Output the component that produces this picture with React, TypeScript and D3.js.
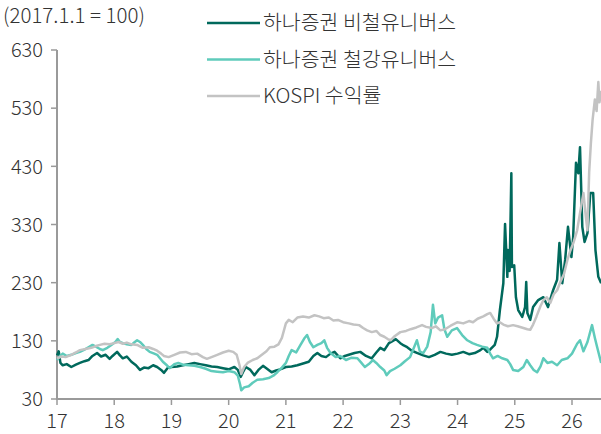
import React from 'react';
import * as d3 from 'd3';

// 하나증권 비철유니버스
const nonferrousT = [
  2017.0, 2017.03, 2017.06, 2017.1, 2017.17, 2017.25, 2017.33, 2017.4, 2017.48, 2017.55, 2017.62, 2017.7, 2017.77, 2017.85, 2017.92, 2017.97,
  2018.05, 2018.1, 2018.15, 2018.22, 2018.3, 2018.38, 2018.45, 2018.52, 2018.6, 2018.68, 2018.75, 2018.82, 2018.87, 2018.93,
  2019.0, 2019.1, 2019.2, 2019.3, 2019.4, 2019.5, 2019.6, 2019.7, 2019.8, 2019.9,
  2020.0, 2020.1, 2020.16, 2020.21, 2020.25, 2020.3, 2020.38, 2020.45, 2020.52, 2020.6, 2020.67, 2020.75, 2020.83, 2020.9,
  2021.0, 2021.1, 2021.2, 2021.3, 2021.4, 2021.48, 2021.55, 2021.62, 2021.7, 2021.78, 2021.85, 2021.95,
  2022.03, 2022.1, 2022.2, 2022.3, 2022.4, 2022.5, 2022.58, 2022.65, 2022.72, 2022.8, 2022.87, 2022.92,
  2023.0, 2023.06, 2023.12, 2023.2, 2023.3, 2023.4, 2023.5, 2023.6, 2023.7, 2023.8, 2023.9,
  2024.0, 2024.1, 2024.2, 2024.3, 2024.4, 2024.45, 2024.52, 2024.58, 2024.65, 2024.69, 2024.74, 2024.8, 2024.83, 2024.87, 2024.88, 2024.91, 2024.94, 2024.95, 2024.99,
  2025.02, 2025.06, 2025.13, 2025.18, 2025.2, 2025.22, 2025.27, 2025.32, 2025.41, 2025.5, 2025.58, 2025.67, 2025.74, 2025.78, 2025.83, 2025.88, 2025.93, 2025.99,
  2026.02, 2026.07, 2026.11, 2026.14, 2026.18, 2026.22, 2026.27, 2026.32, 2026.37, 2026.41, 2026.46, 2026.51,
];
const nonferrousV = [
  105, 112, 92, 88, 90, 85, 89, 92, 95, 97, 104, 109, 103, 106, 99, 104,
  111, 105, 100, 103, 94, 88, 80, 84, 83, 88, 85, 80, 75, 83,
  85, 86, 88, 90, 92, 90, 88, 86, 85, 83,
  81, 85, 80, 68, 76, 85, 80, 71, 80, 87, 82, 76, 79, 81,
  85, 86, 88, 91, 94, 104, 109, 104, 102, 108, 111, 100,
  104, 106, 109, 111, 104, 100, 110, 118, 114, 126, 130, 133,
  126, 122, 119, 113, 109, 105, 102, 106, 111, 108, 106,
  108, 111, 107, 109, 114, 118, 111, 116, 123, 137, 183, 229, 331, 240, 286, 250, 418, 257, 260,
  205, 183, 171, 188, 231, 178, 166, 188, 200, 205, 188, 217, 235, 298, 229, 269, 326, 274,
  308, 436, 418, 463, 326, 300, 315, 384, 384, 286, 240, 229,
];

// 하나증권 철강유니버스
const steelT = [
  2017.0, 2017.05, 2017.1, 2017.17, 2017.25, 2017.33, 2017.4, 2017.48, 2017.55, 2017.62, 2017.68, 2017.75, 2017.8, 2017.88, 2017.95,
  2018.02, 2018.06, 2018.1, 2018.15, 2018.22, 2018.3, 2018.36, 2018.4, 2018.45, 2018.5, 2018.56, 2018.62, 2018.7, 2018.75, 2018.8, 2018.85, 2018.92, 2018.97,
  2019.05, 2019.12, 2019.2, 2019.3, 2019.4, 2019.5, 2019.6, 2019.7, 2019.8, 2019.9,
  2020.0, 2020.1, 2020.16, 2020.2, 2020.22, 2020.27, 2020.35, 2020.42, 2020.5, 2020.6, 2020.7, 2020.78, 2020.85, 2020.93,
  2021.0, 2021.05, 2021.1, 2021.18, 2021.25, 2021.32, 2021.37, 2021.42, 2021.48, 2021.55, 2021.62, 2021.67, 2021.72, 2021.78, 2021.87, 2021.95,
  2022.05, 2022.15, 2022.25, 2022.32, 2022.38, 2022.45, 2022.52, 2022.58, 2022.65, 2022.72, 2022.76, 2022.82, 2022.9,
  2023.0, 2023.08, 2023.17, 2023.29, 2023.34, 2023.4, 2023.47, 2023.53, 2023.57, 2023.61, 2023.66, 2023.73, 2023.77, 2023.82, 2023.9, 2023.99,
  2024.08, 2024.17, 2024.26, 2024.34, 2024.43, 2024.52, 2024.57, 2024.62, 2024.7, 2024.78, 2024.87, 2024.92, 2024.97,
  2025.06, 2025.15, 2025.21, 2025.27, 2025.33, 2025.39, 2025.45, 2025.5, 2025.57, 2025.65, 2025.74, 2025.82, 2025.92,
  2026.0, 2026.09, 2026.14, 2026.2, 2026.27, 2026.35, 2026.4, 2026.44, 2026.51,
];
const steelV = [
  97, 104, 108, 104, 106, 109, 111, 115, 119, 123, 120, 116, 114, 118, 123,
  128, 133, 128, 126, 124, 123, 128, 131, 128, 123, 116, 111, 108, 106, 100, 94, 88, 83,
  90, 92, 89, 88, 87, 85, 82, 78, 77, 76,
  78, 76, 70, 55, 45, 50, 52, 58, 63, 64, 66, 70, 76, 84,
  92, 104, 114, 110, 122, 134, 140, 128, 119, 123, 126, 131, 118, 109, 102, 104,
  97, 101, 100, 92, 85, 90, 97, 92, 85, 79, 71, 78, 82,
  88, 95, 102, 131, 112, 109, 120, 145, 192, 160, 170, 174, 150, 137, 148, 152,
  140, 131, 126, 123, 120, 118, 108, 100, 104, 100, 97, 90, 80,
  78, 85, 97, 88, 80, 76, 86, 100, 92, 94, 88, 97, 100,
  108, 125, 131, 112, 128, 157, 135, 119, 92,
];

// KOSPI 수익률
const kospiT = [
  2017.0, 2017.08, 2017.15, 2017.25, 2017.33, 2017.4, 2017.5, 2017.6, 2017.68, 2017.75, 2017.83, 2017.92,
  2018.0, 2018.08, 2018.15, 2018.22, 2018.3, 2018.4, 2018.5, 2018.6, 2018.68, 2018.75, 2018.82, 2018.87, 2018.95,
  2019.05, 2019.15, 2019.25, 2019.35, 2019.45, 2019.55, 2019.62, 2019.7, 2019.8, 2019.9,
  2020.0, 2020.08, 2020.14, 2020.19, 2020.22, 2020.27, 2020.33, 2020.42, 2020.5, 2020.58, 2020.66, 2020.72, 2020.8, 2020.87, 2020.93,
  2021.0, 2021.05, 2021.12, 2021.2, 2021.3, 2021.4, 2021.5, 2021.58, 2021.66, 2021.75, 2021.83, 2021.91,
  2022.0, 2022.1, 2022.18, 2022.28, 2022.35, 2022.42, 2022.5, 2022.58, 2022.65, 2022.72, 2022.78, 2022.83, 2022.9,
  2023.0, 2023.1, 2023.18, 2023.28, 2023.38, 2023.45, 2023.55, 2023.62, 2023.7, 2023.78, 2023.88,
  2024.0, 2024.1, 2024.2, 2024.27, 2024.35, 2024.45, 2024.52, 2024.57, 2024.63, 2024.69, 2024.74, 2024.8, 2024.88, 2024.97,
  2025.05, 2025.15, 2025.22, 2025.27, 2025.32, 2025.38, 2025.45, 2025.5, 2025.56, 2025.62, 2025.68, 2025.74, 2025.8, 2025.86, 2025.92, 2025.97,
  2026.03, 2026.09, 2026.14, 2026.2, 2026.24, 2026.27, 2026.3, 2026.33, 2026.36, 2026.4, 2026.43, 2026.46, 2026.48, 2026.51,
];
const kospiV = [
  100, 103, 102, 106, 110, 114, 116, 118, 121, 123, 125, 124,
  126, 128, 125, 127, 124, 123, 118, 119, 116, 113, 108, 104, 102,
  106, 110, 111, 107, 108, 102, 99, 102, 106, 110,
  113, 111, 106, 88, 73, 85, 92, 97, 100, 106, 112, 119, 120, 124, 135,
  160, 166, 162, 170, 172, 170, 174, 172, 169, 170, 165, 166,
  162, 160, 158, 157, 152, 148, 145, 147, 140, 137, 133, 131, 138,
  145, 147, 150, 153, 157, 154, 152, 155, 148, 150, 156,
  162, 160, 164, 162, 168, 172, 176, 178, 168, 160, 162, 158, 155, 157,
  155, 152, 150, 149, 158, 172, 190, 200, 205, 195, 210, 217, 232, 245, 269, 285,
  300, 320, 350, 384, 345, 320, 420, 470, 510, 545, 525, 575, 540, 560,
];

const yTicks = [30, 130, 230, 330, 430, 530, 630];
const xTicks = [2017, 2018, 2019, 2020, 2021, 2022, 2023, 2024, 2025, 2026];

const legendItems = [
  { label: '하나증권 비철유니버스', color: '#00695c' },
  { label: '하나증권 철강유니버스', color: '#5fcbbb' },
  { label: 'KOSPI 수익률', color: '#c3c3c3' },
];

const W = 601;
const H = 434;
const font = "'Noto Sans CJK KR', 'Noto Sans', sans-serif";

export default function App() {
  const x = d3.scaleLinear().domain([2017, 2026]).range([57, 572]);
  const y = d3.scaleLinear().domain([30, 630]).range([399, 50]);

  const line = d3
    .line<[number, number]>()
    .x(d => x(d[0]))
    .y(d => y(d[1]));

  const series = [
    { t: nonferrousT, v: nonferrousV, color: legendItems[0].color },
    { t: steelT, v: steelV, color: legendItems[1].color },
    { t: kospiT, v: kospiV, color: legendItems[2].color },
  ];

  const axisColor = '#9a9a9a';

  return (
    <svg width={W} height={H} style={{ position: 'absolute', left: 0, top: 0, background: '#fff' }} fontFamily={font} fontWeight={300}>
      <text x={3} y={23} fontSize={20.5} fill="#333">(2017.1.1 = 100)</text>

      {/* y axis */}
      <line x1={57} x2={57} y1={y(630)} y2={y(30)} stroke={axisColor} strokeWidth={2} />
      {yTicks.map(t => (
        <g key={t}>
          <line x1={51} x2={57} y1={y(t)} y2={y(t)} stroke={axisColor} strokeWidth={1.5} />
          <text x={43} y={y(t)} dy="0.36em" textAnchor="end" fontSize={20} fill="#333">{t}</text>
        </g>
      ))}

      {/* x axis */}
      <line x1={56} x2={W} y1={y(30)} y2={y(30)} stroke={axisColor} strokeWidth={2} />
      {xTicks.map(t => (
        <g key={t}>
          <line x1={x(t)} x2={x(t)} y1={y(30)} y2={y(30) + 6} stroke={axisColor} strokeWidth={1.5} />
          <text x={x(t)} y={428} textAnchor="middle" fontSize={20} fill="#333">{String(t).slice(2)}</text>
        </g>
      ))}

      {series.map((s, i) => (
        <path
          key={i}
          d={line(s.t.map((t, j) => [t, s.v[j]] as [number, number])) || ''}
          fill="none"
          stroke={s.color}
          strokeWidth={2.5}
          strokeLinejoin="round"
        />
      ))}

      {legendItems.map((item, i) => (
        <g key={item.label} transform={`translate(207, ${23 + i * 36.5})`}>
          <line x1={0} x2={53} y1={0} y2={0} stroke={item.color} strokeWidth={2.5} />
          <text x={56} y={0} dy="0.36em" fontSize={20.5} fill="#333">{item.label}</text>
        </g>
      ))}
    </svg>
  );
}
